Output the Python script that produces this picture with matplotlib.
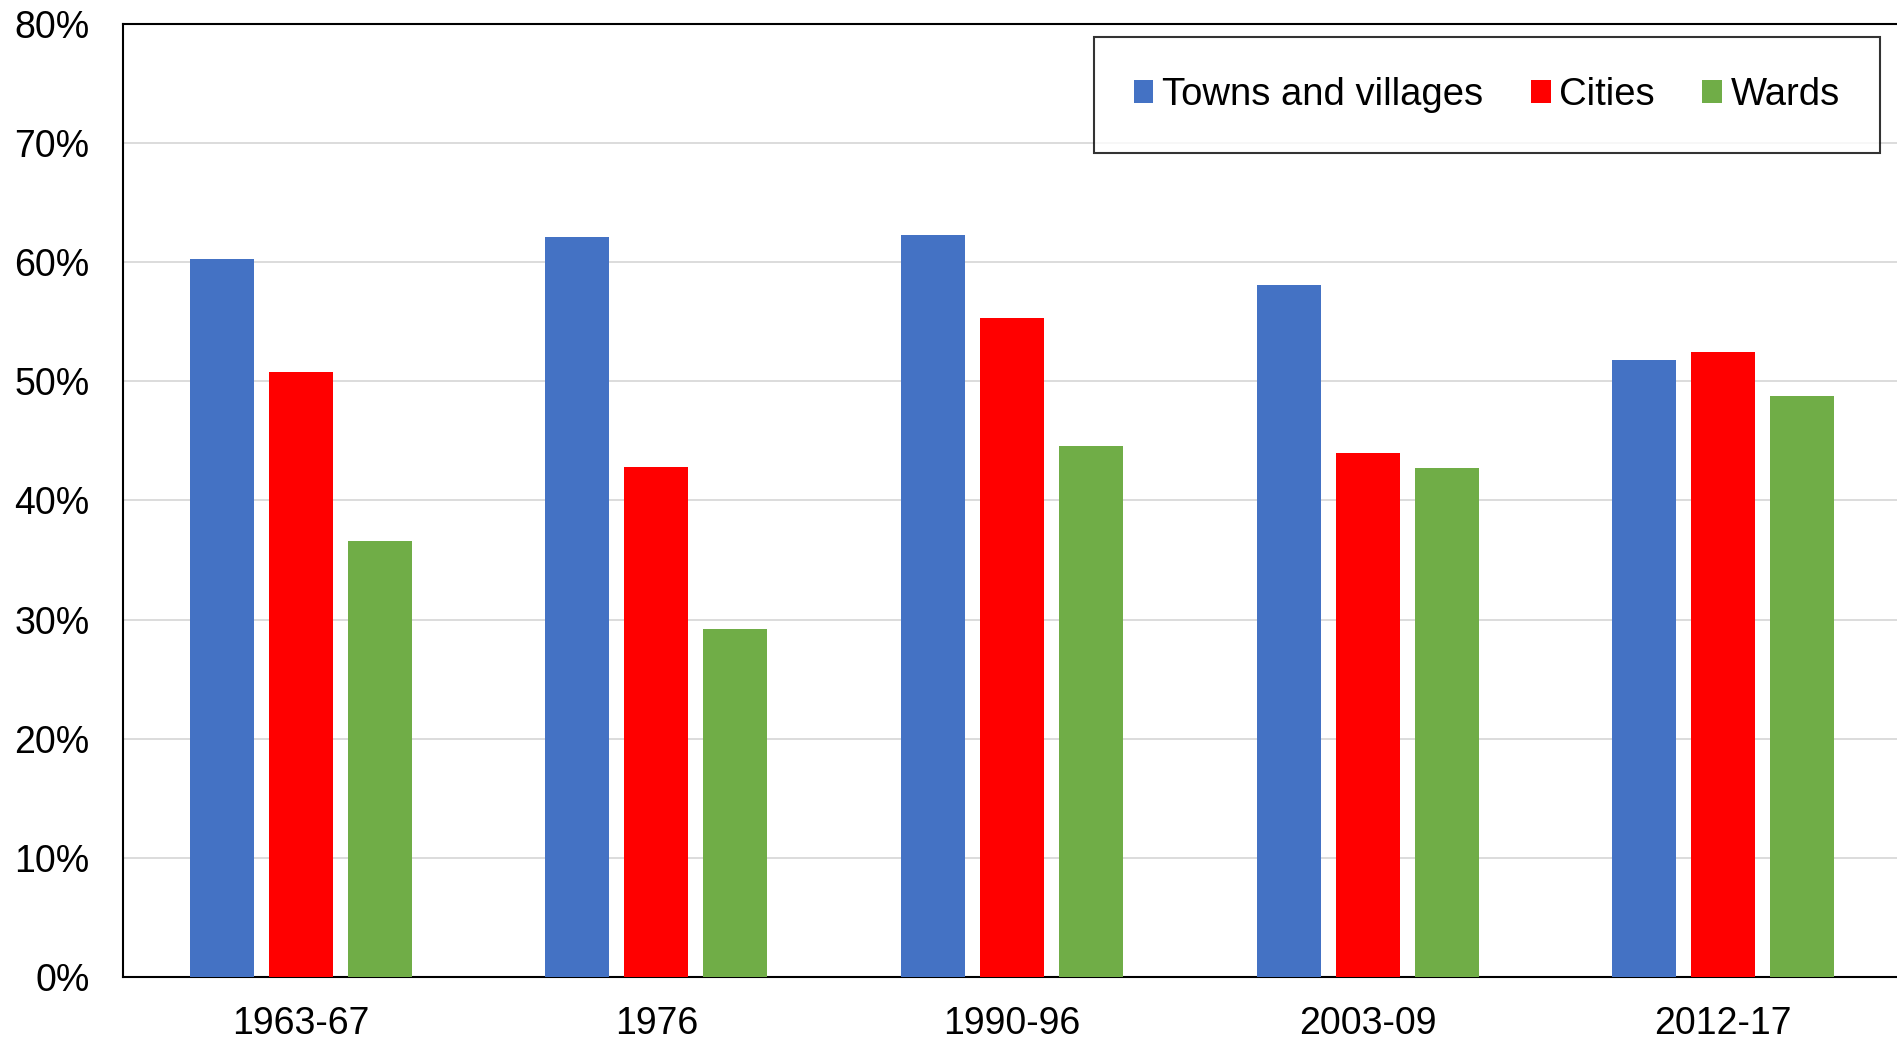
import matplotlib
matplotlib.use("Agg")
import matplotlib.pyplot as plt
import numpy as np
from matplotlib.ticker import FuncFormatter

categories = ["1963-67", "1976", "1990-96", "2003-09", "2012-17"]
towns = [60.3, 62.1, 62.3, 58.1, 51.8]
cities = [50.8, 42.8, 55.3, 44.0, 52.5]
wards = [36.6, 29.2, 44.6, 42.7, 48.8]
series_names = ["Towns and villages", "Cities", "Wards"]
colors = ["#4472C4", "#FF0000", "#70AD47"]

plt.rcParams['font.family'] = ['Liberation Sans', 'DejaVu Sans']

W, H = 1897, 1041
fig = plt.figure(figsize=(W / 100, H / 100), dpi=100)
ax = fig.add_axes([123 / W, 1 - 977 / H, 1778 / W, 953 / H])

x = np.arange(len(categories))
width = 0.18
step = 0.222
for i, (vals, name, c) in enumerate(zip([towns, cities, wards], series_names, colors)):
    ax.bar(x + (i - 1) * step, vals, width, color=c, label=name, zorder=3)

ax.set_xlim(-0.5, len(categories) - 0.5)
ax.set_ylim(0, 80)
ax.set_yticks(np.arange(0, 81, 10))
ax.yaxis.set_major_formatter(FuncFormatter(lambda v, p: f"{int(v)}%"))
ax.set_xticks(x)
ax.set_xticklabels(categories)
ax.tick_params(axis='both', length=0, labelsize=27)
ax.tick_params(axis='y', pad=24)
ax.tick_params(axis='x', pad=21)
ax.grid(axis='y', color='#d9d9d9', linewidth=1.3, zorder=0)
for s in ['left', 'bottom', 'top', 'right']:
    ax.spines[s].set_linewidth(1.5)
    ax.spines[s].set_color('black')

leg = ax.legend(loc='upper right', bbox_to_anchor=(1880 / W, 1 - 37 / H),
                bbox_transform=fig.transFigure, ncol=3, fontsize=27.5,
                frameon=True, fancybox=False, edgecolor='black',
                borderaxespad=0, borderpad=1.05, handlelength=0.52,
                handleheight=0.52, handletextpad=0.22, columnspacing=1.25)
leg.get_frame().set_linewidth(1.5)
leg.set_zorder(5)

fig.savefig("out.png", dpi=100)
